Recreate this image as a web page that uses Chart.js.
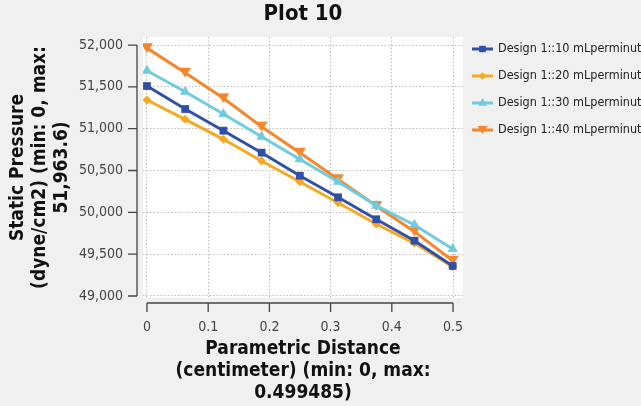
<!DOCTYPE html>
<html>
<head>
<meta charset="utf-8">
<script src="https://cdn.jsdelivr.net/npm/chart.js@4"></script>
<style>
  html, body { margin: 0; padding: 0; background: #f0f0f0; }
  #wrap { width: 641px; height: 406px; }
</style>
</head>
<body>
<div id="wrap"><canvas id="plot10" width="641" height="406"></canvas></div>
<script>
// parametric distance along the line (cm)
const distance = [0, 0.0624, 0.1249, 0.1873, 0.2497, 0.3122, 0.3746, 0.4371, 0.499485];

// static pressure, dyne/cm2
const design10 = [51510, 51235, 50976, 50713, 50438, 50180, 49917, 49661, 49359];
const design20 = [51343, 51112, 50873, 50614, 50366, 50115, 49861, 49630, 49351];
const design30 = [51693, 51442, 51175, 50904, 50634, 50366, 50080, 49849, 49562];
const design40 = [51963, 51669, 51363, 51024, 50713, 50395, 50076, 49769, 49422];

const seriesNames = [
  "Design 1::10 mLperminute",
  "Design 1::20 mLperminute",
  "Design 1::30 mLperminute",
  "Design 1::40 mLperminute",
];
const xTicks = [0, 0.1, 0.2, 0.3, 0.4, 0.5];
const yTicks = [49000, 49500, 50000, 50500, 51000, 51500, 52000];

const colors = ["#3050a8", "#f8a820", "#6ecbe0", "#f5862a"];
const markers = ["rect", "rectRot", "triangle", "triangleDown"];
const markerRadius = [5.5, 4.5, 6, 6];

const FONT = "'DejaVu Sans Condensed', 'DejaVu Sans', sans-serif";

function pts(values) {
  return values.map((v, i) => ({ x: distance[i], y: v }));
}

// chart.js has no down triangle, so draw one into a small canvas
function triDown(color, size) {
  const c = document.createElement("canvas");
  c.width = size; c.height = size;
  const g = c.getContext("2d");
  g.fillStyle = color;
  g.beginPath();
  g.moveTo(0, 1);
  g.lineTo(size, 1);
  g.lineTo(size / 2, size - 1);
  g.closePath();
  g.fill();
  return c;
}

const dataSets = [design10, design20, design30, design40].map((vals, i) => ({
  label: seriesNames[i],
  data: pts(vals),
  borderColor: colors[i],
  backgroundColor: colors[i],
  borderWidth: 3,
  pointStyle: markers[i] === "triangleDown" ? triDown(colors[i], 12) : markers[i],
  pointRadius: markerRadius[i],
  pointBorderWidth: 0,
  tension: 0,
}));

// white plot background
const plotBg = {
  id: "plotBg",
  beforeDraw(chart) {
    const a = chart.chartArea;
    const ctx = chart.ctx;
    ctx.save();
    ctx.fillStyle = "#ffffff";
    ctx.fillRect(a.left, a.top, a.right - a.left, a.bottom - a.top);
    ctx.restore();
  },
};

// bracket style axes sitting a little outside the plot area
const bracketAxes = {
  id: "bracketAxes",
  afterDraw(chart) {
    const ctx = chart.ctx;
    const xs = chart.scales.x, ys = chart.scales.y;
    const a = chart.chartArea;
    ctx.save();
    ctx.strokeStyle = "#444";
    ctx.lineWidth = 1.3;
    // y axis
    const ax = a.left - 6;
    ctx.beginPath();
    ctx.moveTo(ax, ys.getPixelForValue(yTicks[0]));
    ctx.lineTo(ax, ys.getPixelForValue(yTicks[yTicks.length - 1]));
    yTicks.forEach((t) => {
      const py = ys.getPixelForValue(t);
      ctx.moveTo(ax, py);
      ctx.lineTo(ax - 9, py);
    });
    ctx.stroke();
    // x axis
    const ay = a.bottom + 5;
    ctx.beginPath();
    ctx.moveTo(xs.getPixelForValue(xTicks[0]), ay);
    ctx.lineTo(xs.getPixelForValue(xTicks[xTicks.length - 1]), ay);
    xTicks.forEach((t) => {
      const px = xs.getPixelForValue(t);
      ctx.moveTo(px, ay);
      ctx.lineTo(px, ay + 9);
    });
    ctx.stroke();
    ctx.restore();
  },
};

// legend: line with marker, text runs off the canvas like the original
const sideLegend = {
  id: "sideLegend",
  afterDraw(chart) {
    const ctx = chart.ctx;
    const a = chart.chartArea;
    ctx.save();
    ctx.font = "12.5px " + FONT;
    ctx.textBaseline = "middle";
    chart.data.datasets.forEach((ds, i) => {
      const y = a.top + 12 + i * 27;
      const x0 = a.right + 9;
      ctx.strokeStyle = ds.borderColor;
      ctx.lineWidth = 3;
      ctx.beginPath();
      ctx.moveTo(x0, y);
      ctx.lineTo(x0 + 21, y);
      ctx.stroke();
      ctx.fillStyle = ds.borderColor;
      const style = ds.pointStyle;
      if (typeof style === "string") {
        Chart.helpers.drawPoint(ctx, { pointStyle: style, radius: ds.pointRadius * 0.8, borderWidth: 0 }, x0 + 10.5, y);
        ctx.fill();
      } else {
        ctx.drawImage(style, x0 + 10.5 - 5, y - 5, 10, 10);
      }
      ctx.fillStyle = "#222";
      ctx.fillText(ds.label, x0 + 26, y);
    });
    ctx.restore();
  },
};

new Chart("plot10", {
  type: "line",
  data: { datasets: dataSets },
  plugins: [plotBg, bracketAxes, sideLegend],
  options: {
    responsive: false,
    animation: false,
    layout: { padding: { left: 0, right: 178, top: 0, bottom: 0 } },
    plugins: {
      legend: { display: false },
      tooltip: { enabled: false },
      title: {
        display: true,
        text: "Plot 10",
        fullSize: false,
        color: "#111",
        font: { family: FONT, size: 22, weight: "bold", lineHeight: 1.1 },
        padding: { top: 2, bottom: 10.8 },
      },
    },
    scales: {
      x: {
        type: "linear",
        min: -0.0065,
        max: 0.5163,
        afterBuildTicks: (s) => { s.ticks = xTicks.map((v) => ({ value: v })); },
        afterFit: (s) => { s.height = 108; },
        ticks: {
          color: "#444",
          font: { family: FONT, size: 14 },
          padding: 7,
          maxRotation: 0,
          callback: (v) => String(v),
        },
        grid: {
          color: "#bcbcbc",
          lineWidth: 1,
          drawTicks: true,
          tickLength: 14,
          tickColor: "rgba(0,0,0,0)",
        },
        border: { display: false, dash: [1.5, 2] },
        title: {
          display: true,
          text: ["Parametric Distance", "(centimeter) (min: 0, max:", "0.499485)"],
          color: "#111",
          font: { family: FONT, size: 19, weight: "bold", lineHeight: 1.16 },
          padding: { top: 0, bottom: 2 },
        },
      },
      y: {
        type: "linear",
        min: 48976,
        max: 52096,
        afterBuildTicks: (s) => { s.ticks = yTicks.map((v) => ({ value: v })); },
        afterFit: (s) => { s.width = 143; },
        ticks: {
          color: "#444",
          font: { family: FONT, size: 14 },
          padding: 6,
          callback: (v) => v.toLocaleString("en-US"),
        },
        grid: {
          color: "#bcbcbc",
          lineWidth: 1,
          drawTicks: true,
          tickLength: 14,
          tickColor: "rgba(0,0,0,0)",
        },
        border: { display: false, dash: [1.5, 2] },
        title: {
          display: true,
          text: ["Static Pressure", "(dyne/cm2) (min: 0, max:", "51,963.6)"],
          color: "#111",
          font: { family: FONT, size: 19, weight: "bold", lineHeight: 1.16 },
          padding: { top: 7, bottom: 0 },
        },
      },
    },
  },
});
</script>
</body>
</html>
